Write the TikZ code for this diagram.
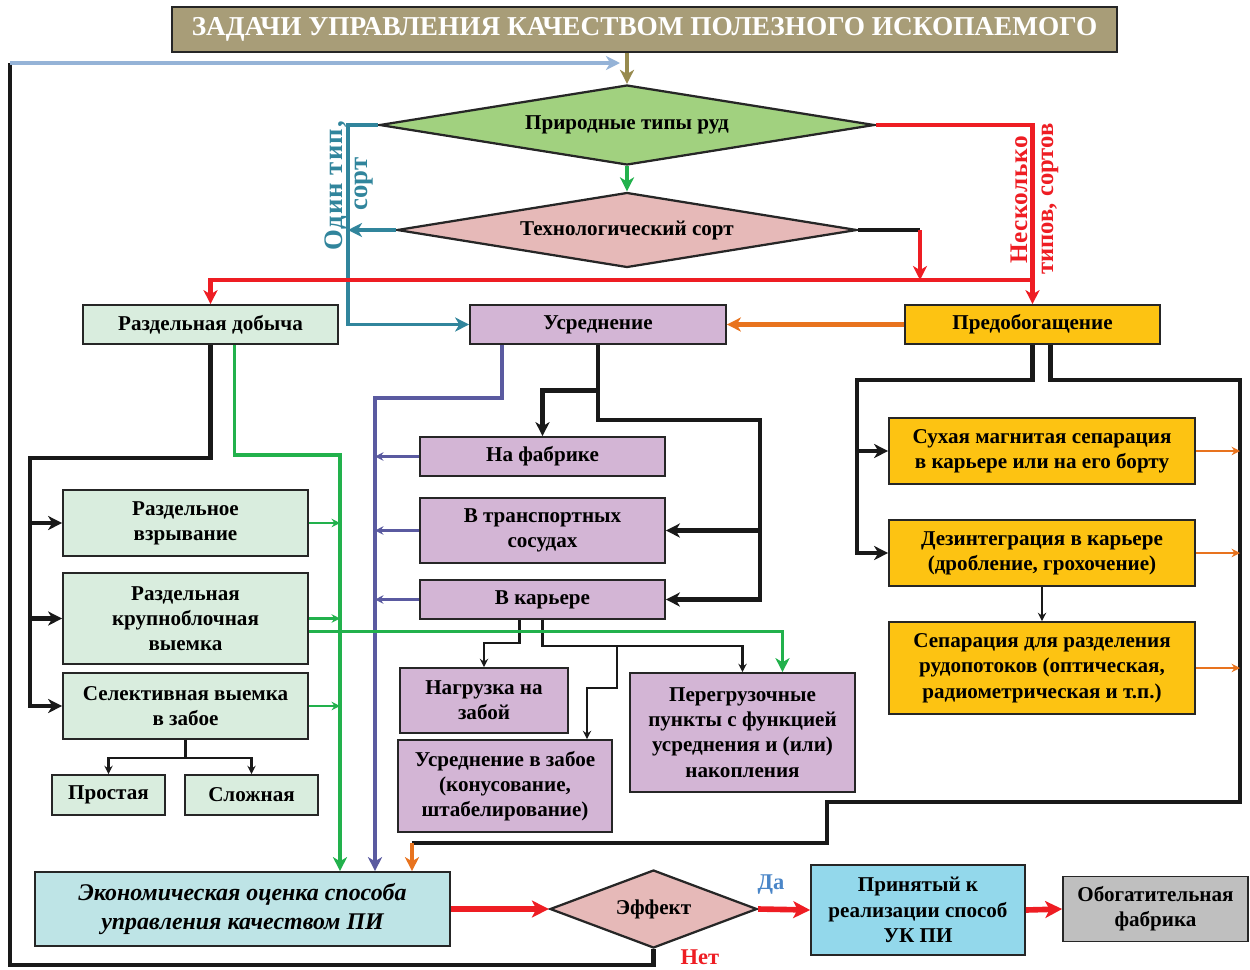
\documentclass[tikz,border=0pt]{standalone}
\usepackage{fontspec}
\setmainfont{Liberation Serif}
\usepackage{xcolor}
\usetikzlibrary{positioning, arrows.meta, shapes.geometric, calc}

\newcommand{\pxu}{0.025cm}

\definecolor{titlebg}{HTML}{A89D78}
\definecolor{olivec}{HTML}{978A4E}
\definecolor{ltbluec}{HTML}{95B3D7}
\definecolor{natgreen}{HTML}{A1D17F}
\definecolor{pinkd}{HTML}{E6B9B8}
\definecolor{tealc}{HTML}{31859C}
\definecolor{redc}{HTML}{EE1D23}
\definecolor{grnc}{HTML}{22B14C}
\definecolor{purc}{HTML}{5A5AA0}
\definecolor{orc}{HTML}{E8731E}
\definecolor{lgreen}{HTML}{D9EDDE}
\definecolor{lav}{HTML}{D3B5D5}
\definecolor{goldc}{HTML}{FDC312}
\definecolor{econbg}{HTML}{BEE4E6}
\definecolor{accbg}{HTML}{93D8EB}
\definecolor{grayb}{HTML}{BFBFBF}
\definecolor{dablue}{HTML}{4A86C8}

\begin{document}
\begin{tikzpicture}[
    x=\pxu, y=-\pxu,
    sz/.style 2 args={minimum width=#1*\pxu, minimum height=#2*\pxu},
    box/.style={rectangle, draw=black!85, line width=1.2pt, align=center, inner sep=1pt, font=\fontsize{15}{18}\selectfont\bfseries},
    mine/.style={box, fill=lgreen},
    avgbox/.style={box, fill=lav},
    prebox/.style={box, fill=goldc},
    dec/.style={diamond, draw=black!85, line width=1.6pt, inner sep=0pt, aspect=5, font=\fontsize{15}{18}\selectfont\bfseries},
    blk/.style={line width=3.4pt, black!90},
    blkarr/.style={blk, -{Stealth[length=10pt, width=10pt, inset=3pt]}},
    thinarr/.style={line width=1.5pt, black!90, -{Stealth[length=6pt, width=6pt, inset=2pt]}},
    redln/.style={line width=3pt, redc},
    redarr/.style={redln, -{Stealth[length=10pt, width=10pt, inset=3pt]}},
    bigred/.style={line width=4pt, redc, -{Stealth[length=12pt, width=12pt, inset=3pt]}},
    tealarr/.style={line width=2.8pt, tealc, -{Stealth[length=10pt, width=10pt, inset=3pt]}},
    grnarr/.style={line width=2.8pt, grnc, -{Stealth[length=10pt, width=10pt, inset=3pt]}},
    grnthin/.style={line width=1.6pt, grnc, -{Stealth[length=6pt, width=6pt, inset=2pt]}},
    purarr/.style={line width=2.8pt, purc, -{Stealth[length=10pt, width=10pt, inset=3pt]}},
    purthin/.style={line width=1.6pt, purc, -{Stealth[length=6pt, width=6pt, inset=2pt]}},
    orarr/.style={line width=3pt, orc, -{Stealth[length=10pt, width=10pt, inset=3pt]}},
    orthin/.style={line width=1.6pt, orc, -{Stealth[length=6pt, width=6pt, inset=2pt]}},
    lbl/.style={font=\fontsize{16}{20}\selectfont\bfseries, inner sep=0pt},
    vlbl/.style={inner sep=0pt, rotate=90, anchor=base}
]
\useasboundingbox (0,0) rectangle (1250,969);

% Title and decisions
\node[box, sz={945}{45}, fill=titlebg, text=white, font=\fontsize{19.4}{23}\selectfont\bfseries] (title) at (644.5,29.5) {ЗАДАЧИ УПРАВЛЕНИЯ КАЧЕСТВОМ ПОЛЕЗНОГО ИСКОПАЕМОГО};
\node[dec, sz={495}{80}, fill=natgreen] (types) at (627,125) {Природные типы руд};
\node[dec, sz={460}{75}, fill=pinkd] (grade) at (627,230) {Технологический сорт};

% Main row
\node[mine, sz={255}{39}] (sepmin) at (210.5,324.5) {Раздельная добыча};
\node[avgbox, sz={256}{39}] (avg) at (598,324.5) {Усреднение};
\node[prebox, sz={255}{39}] (preben) at (1032.5,324.5) {Предобогащение};

% Separate mining column
\node[mine, sz={245}{66}] (blast) at (185.5,523) {Раздельное\\взрывание};
\node[mine, sz={245}{91}] (bulk) at (185.5,618.5) {Раздельная\\крупноблочная\\выемка};
\node[mine, sz={245}{66}] (select) at (185.5,706) {Селективная выемка\\в забое};
\node[mine, sz={113}{40}] (simple) at (108.5,795) {Простая};
\node[mine, sz={133}{40}] (complex) at (251.5,795) {Сложная};

% Averaging column
\node[avgbox, sz={245}{39}] (atplant) at (542.5,456.5) {На фабрике};
\node[avgbox, sz={245}{65}] (intrans) at (542.5,530.5) {В транспортных\\сосудах};
\node[avgbox, sz={245}{39}] (inpit) at (542.5,599.5) {В карьере};
\node[avgbox, sz={168}{65}] (faceload) at (484,700.5) {Нагрузка на\\забой};
\node[avgbox, sz={214}{92}] (faceavg) at (505,786) {Усреднение в забое\\(конусование,\\штабелирование)};
\node[avgbox, sz={225}{119}] (transfer) at (742.5,732.5) {Перегрузочные\\пункты с функцией\\усреднения и (или)\\накопления};

% Pre-beneficiation column
\node[prebox, sz={306}{66}] (drymag) at (1042,451) {Сухая магнитая сепарация\\в карьере или на его борту};
\node[prebox, sz={306}{66}] (disint) at (1042,553) {Дезинтеграция в карьере\\(дробление, грохочение)};
\node[prebox, sz={306}{92}] (flowsep) at (1042,668) {Сепарация для разделения\\рудопотоков (оптическая,\\радиометрическая и т.п.)};

% Bottom row
\node[box, sz={415}{74}, fill=econbg, font=\fontsize{17}{21}\selectfont\bfseries\itshape] (econ) at (242.5,909) {Экономическая оценка способа\\управления качеством ПИ};
\node[dec, sz={207}{78}, fill=pinkd] (effect) at (653.5,909) {Эффект};
\node[box, sz={214}{90}, fill=accbg] (accepted) at (918,910) {Принятый к\\реализации способ\\УК ПИ};
\node[box, sz={185}{65}, fill=grayb] (plant) at (1155.5,909) {Обогатительная\\фабрика};

% Branch labels
\node[vlbl, text=tealc, font=\fontsize{19}{22}\selectfont\bfseries\addfontfeature{LetterSpace=4}] (onetype) at (342,186) {Один тип,};
\node[vlbl, text=tealc, font=\fontsize{19}{22}\selectfont\bfseries] (onegrade) at (367,184) {сорт};
\node[vlbl, text=redc, font=\fontsize{18}{22}\selectfont\bfseries\addfontfeature{LetterSpace=2}] (manytype) at (1027,200) {Несколько};
\node[vlbl, text=redc, font=\fontsize{17.5}{22}\selectfont\bfseries] (manygrade) at (1053,199) {типов, сортов};
\node[lbl, text=dablue] (yes) at (771,885) {Да};
\node[lbl, text=redc] (no) at (700,957) {Нет};

% Top and loop back
\coordinate (loopTop) at (10,63);
\coordinate (loopBot) at (10,965);
\coordinate (inTop) at (620,63);
\draw[line width=2.8pt, olivec, -{Stealth[length=10pt, width=10pt, inset=3pt]}] (title.south -| types.north) -- (types.north);
\draw[blk] (effect.south) |- (loopBot) -- (loopTop);
\draw[line width=2.8pt, ltbluec, -{Stealth[length=10pt, width=10pt, inset=3pt]}] (loopTop) -- (inTop);
\draw[grnarr] (types.south) -- (grade.north);

% One type
\coordinate (tcorner) at (348,125);
\draw[tealarr] (types.west) -- (tcorner) |- (avg.west);
\draw[tealarr] (grade.west) -- (grade.west -| tcorner);

% Several types
\coordinate (rbus) at (1032,280);
\coordinate (gcorner) at (920,230);
\draw[redarr] (types.east) -| (preben.north);
\draw[redarr] (rbus) -| (sepmin.north);
\draw[blk] (grade.east) -- (gcorner);
\draw[redarr] (gcorner) -- (gcorner |- rbus);
\draw[orarr] (preben.west) -- (avg.east);

% Separate mining
\coordinate (lbus) at (30,458);
\draw[blkarr] (sepmin.south) |- (lbus) |- (select.west);
\draw[blkarr] (lbus |- blast.west) -- (blast.west);
\draw[blkarr] (lbus |- bulk.west) -- (bulk.west);
\draw[thinarr] (select.south) -- ++(0,18) -| (simple.north);
\draw[thinarr] (select.south) -- ++(0,18) -| (complex.north);

% Averaging
\coordinate (abus) at (760,420);
\draw[blkarr] (avg.south) -- ++(0,46) -| (atplant.north);
\draw[blkarr] (avg.south) |- (abus) |- (inpit.east);
\draw[blkarr] (abus |- intrans.east) -- (intrans.east);
\coordinate (kj) at (617,645);
\draw[thinarr] ($(inpit.south)+(-23,0)$) -- ++(0,23) -| (faceload.north);
\draw[thinarr] (inpit.south) -- ++(0,26) -| (transfer.north);
\draw[thinarr] (kj) -- ++(0,43) -| ($(faceavg.north)+(82,0)$);

% Pre-beneficiation
\coordinate (rbl) at (857,380);
\coordinate (rrt) at (1240,380);
\coordinate (rrb) at (827,802);
\coordinate (obus) at (412,843);
\draw[blkarr] (preben.south) |- (rbl) |- (disint.west);
\draw[blkarr] (rbl |- drymag.west) -- (drymag.west);
\draw[thinarr] (disint.south) -- (flowsep.north);
\draw[blk] ($(preben.south)+(18,0)$) |- (rrt) |- (rrb) |- (obus);
\draw[orarr] (obus) -- (obus |- econ.north);
\foreach \n in {drymag, disint, flowsep}
    \draw[orthin] (\n.east) -- (\n.east -| rrt);

% Into economic evaluation
\coordinate (gbus) at (340,455);
\coordinate (pbus) at (375,398);
\draw[purarr] ($(avg.south)+(-96,0)$) |- (pbus) -- (pbus |- econ.north);
\foreach \n in {atplant, intrans, inpit}
    \draw[purthin] (\n.west) -- (\n.west -| pbus);
\draw[grnarr] ($(sepmin.south)+(24,0)$) |- (gbus) -- (gbus |- econ.north);
\foreach \n in {blast, bulk, select}
    \draw[grnthin] (\n.east) -- (\n.east -| gbus);
\draw[grnarr] ($(bulk.east)+(0,13)$) -| ($(transfer.north)+(40,0)$);

% Decision
\draw[bigred] (econ.east) -- (effect.west);
\draw[bigred] (effect.east) -- (accepted.west);
\draw[bigred] (accepted.east) -- (plant.west);

\end{tikzpicture}
\end{document}
